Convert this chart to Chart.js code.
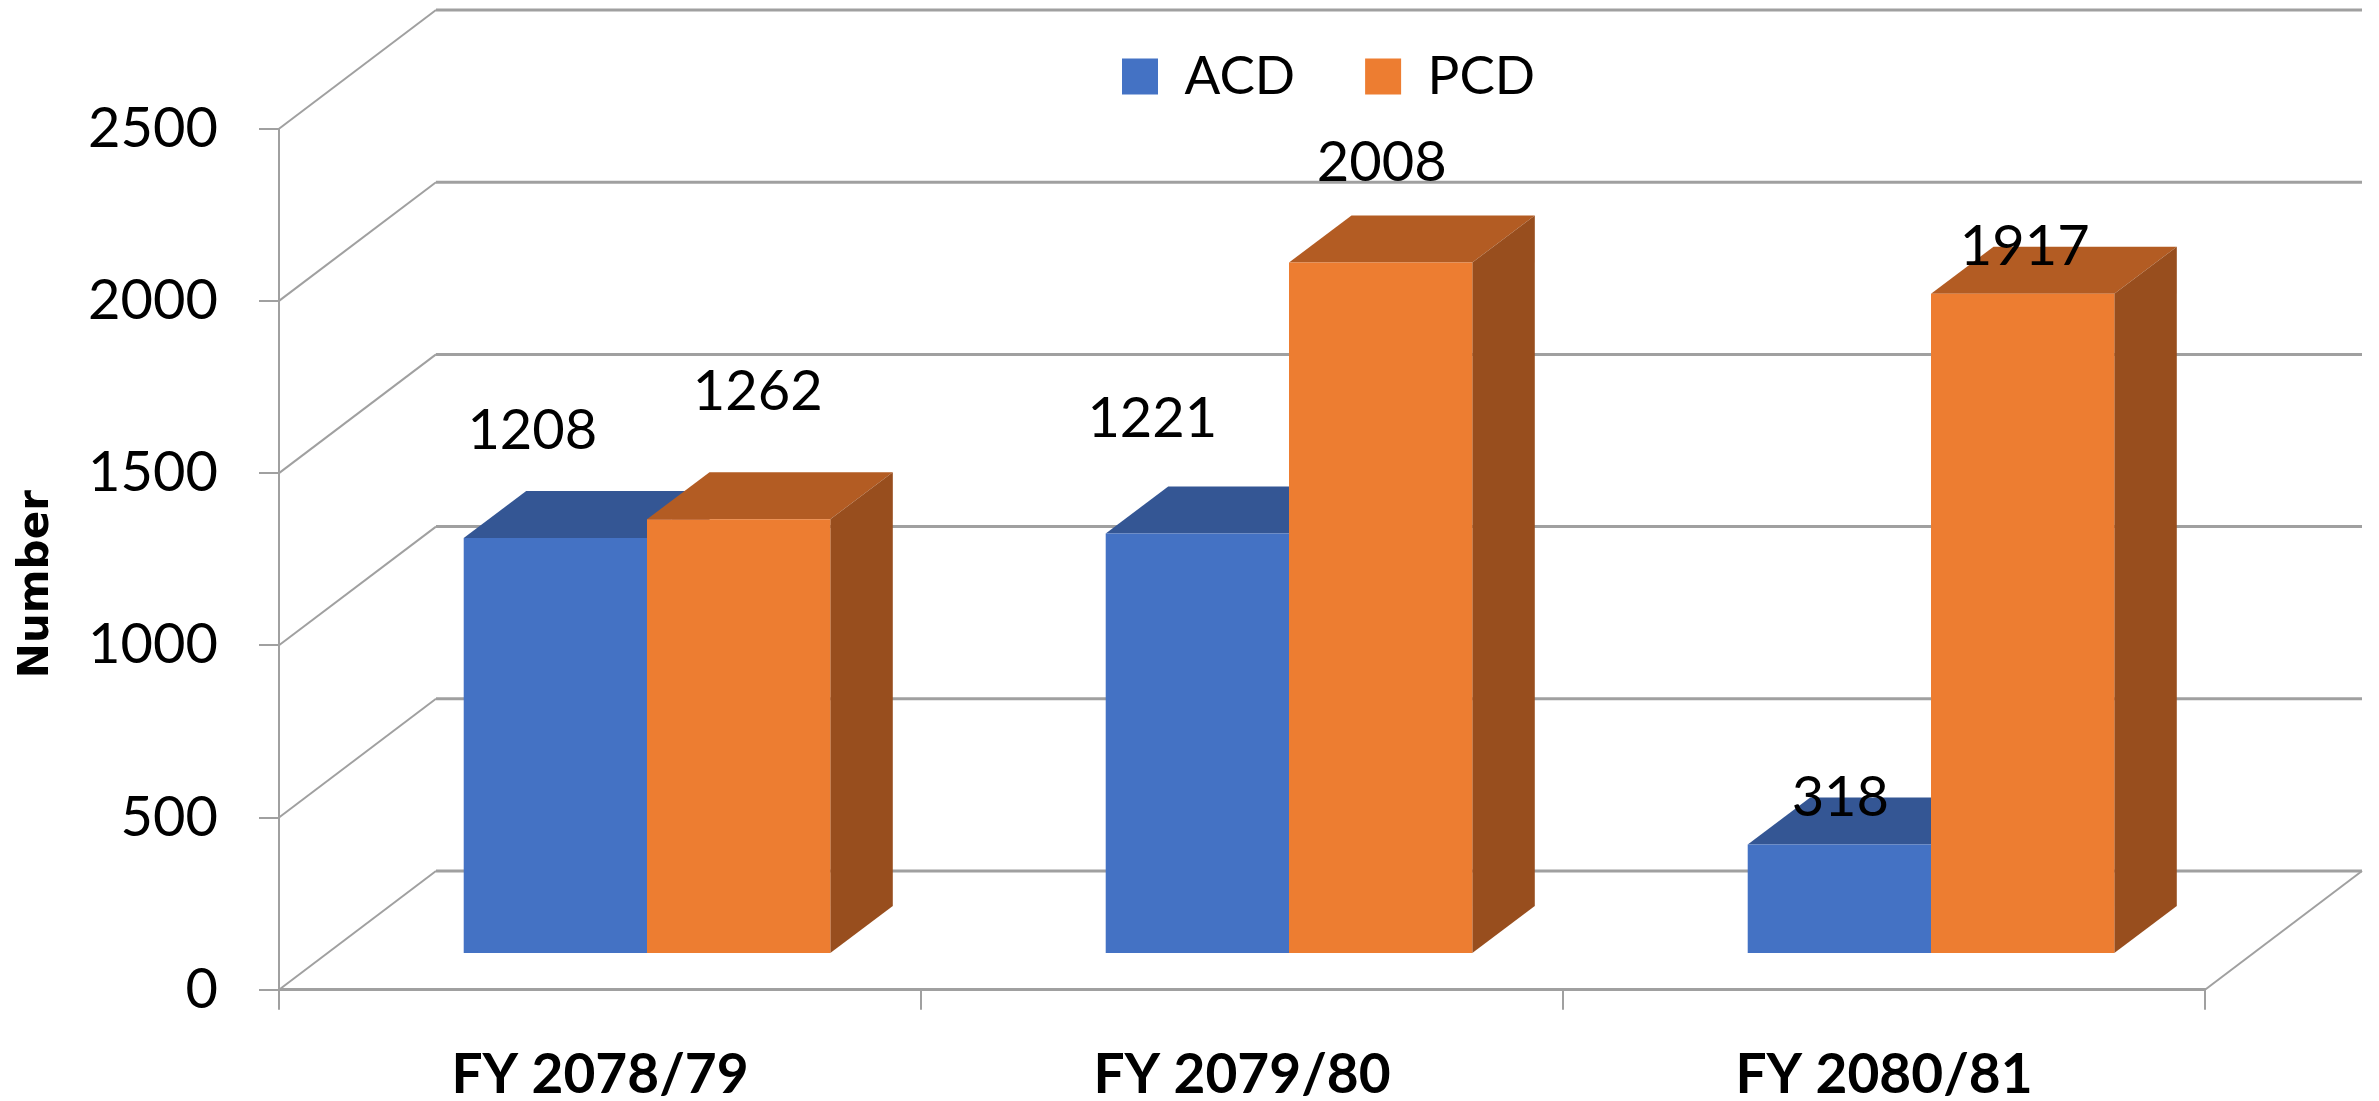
<!DOCTYPE html>
<html>
<head>
<meta charset="utf-8">
<title>ACD and PCD by fiscal year</title>
<script src="https://cdn.jsdelivr.net/npm/chart.js@4"></script>
<style>
    html, body { margin: 0; padding: 0; background: #fff; }
    #chart-wrap { width: 2379px; height: 1101px; }
</style>
</head>
<body>
<div id="chart-wrap"><canvas id="barChart"></canvas></div>
<script>
// Values
const categories = ['FY 2078/79', 'FY 2079/80', 'FY 2080/81'];
const acdValues = [1208, 1221, 318];
const pcdValues = [1262, 2008, 1917];
const yMax = 2500;
const yStep = 500;

// Data labels were placed by hand in the original, so keep their nudges (px from bar top centre)
const acdLabelNudge = [[-23, -107], [-45, -115], [1, -47]];
const pcdLabelNudge = [[19, -127], [1, -100], [2, -47]];

const GRID = '#a0a0a0';
const FONT = 'Lato, Carlito, sans-serif';

// Fake 3D: the floor depth, how far the bars sit into it and how deep the bars are
const floorDx = 157, floorDy = 118.7;
const barDx = 47, barDy = 35.7;
const depthDx = 62.5, depthDy = 47;

const faceColors = [
    { top: '#345694', side: '#2a4474' },
    { top: '#b35c23', side: '#984e1e' }
];

function poly(ctx, pts, fill) {
    ctx.beginPath();
    pts.forEach((p, i) => i ? ctx.lineTo(p[0], p[1]) : ctx.moveTo(p[0], p[1]));
    ctx.closePath();
    ctx.fillStyle = fill;
    ctx.fill();
}

const box3d = {
    id: 'box3d',
    afterLayout(chart) {
        // move the legend and the axis title to where they sit in the original
        const legend = chart.legend;
        legend.left = 1122 - legend.options.labels.padding;
        legend.right = legend.left + 600;
        legend.top = 84 - legend.options.labels.padding - 34;
        chart.scales.y.bottom += 50;
    },
    beforeDatasetsDraw(chart) {
        const { ctx, chartArea, scales } = chart;
        const { left, right, top, bottom } = chartArea;

        // back wall lines and their diagonals
        ctx.save();
        ctx.strokeStyle = GRID;
        scales.y.ticks.forEach(t => {
            const y = scales.y.getPixelForValue(t.value);
            ctx.lineWidth = 2;
            ctx.beginPath();
            ctx.moveTo(left, y);
            ctx.lineTo(left + floorDx, y - floorDy);
            ctx.stroke();
            ctx.lineWidth = 3;
            ctx.beginPath();
            ctx.moveTo(left + floorDx, y - floorDy);
            ctx.lineTo(right + floorDx, y - floorDy);
            ctx.stroke();
        });
        ctx.lineWidth = 2;
        ctx.beginPath();
        ctx.moveTo(right, bottom);
        ctx.lineTo(right + floorDx, bottom - floorDy);
        ctx.stroke();
        // y axis line, drawn here because the shifted scale box would stretch the built-in one
        ctx.beginPath();
        ctx.moveTo(left, top);
        ctx.lineTo(left, bottom);
        ctx.stroke();
        ctx.restore();

        // the bars stand a little way into the floor
        ctx.save();
        ctx.translate(barDx, -barDy);
        chart.data.datasets.forEach((ds, d) => {
            chart.getDatasetMeta(d).data.forEach(bar => {
                const x0 = bar.x - bar.width / 2, x1 = bar.x + bar.width / 2;
                const c = faceColors[d];
                poly(ctx, [[x0, bar.y], [x1, bar.y], [x1 + depthDx, bar.y - depthDy], [x0 + depthDx, bar.y - depthDy]], c.top);
                poly(ctx, [[x1, bar.y], [x1, bar.base], [x1 + depthDx, bar.base - depthDy], [x1 + depthDx, bar.y - depthDy]], c.side);
            });
        });
        // left open on purpose, afterDatasetsDraw restores after the fronts are drawn
    },
    afterDatasetsDraw(chart) {
        const { ctx } = chart;
        ctx.restore();

        // value labels
        ctx.save();
        ctx.translate(barDx, -barDy);
        ctx.font = '56px ' + FONT;
        ctx.fillStyle = '#000';
        ctx.textAlign = 'center';
        ctx.textBaseline = 'middle';
        const nudges = [acdLabelNudge, pcdLabelNudge];
        chart.data.datasets.forEach((ds, d) => {
            chart.getDatasetMeta(d).data.forEach((bar, i) => {
                const n = nudges[d][i];
                ctx.fillText(ds.data[i], bar.x + n[0], bar.y + n[1]);
            });
        });
        ctx.restore();
    }
};

const config = {
    type: 'bar',
    data: {
        labels: categories,
        datasets: [
            { label: 'ACD', data: acdValues, backgroundColor: '#4472c4' },
            { label: 'PCD', data: pcdValues, backgroundColor: '#ed7d31' }
        ]
    },
    options: {
        responsive: true,
        maintainAspectRatio: false,
        animation: false,
        categoryPercentage: 0.571,
        barPercentage: 1,
        layout: { padding: { top: 127.7, right: 174, left: 0, bottom: 0 } },
        plugins: {
            title: { display: false },
            tooltip: { enabled: false },
            legend: {
                display: true,
                position: 'top',
                maxHeight: 1,
                align: 'start',
                labels: {
                    boxWidth: 36,
                    boxHeight: 36,
                    padding: 70,
                    color: '#000',
                    font: { family: FONT, size: 53 }
                }
            }
        },
        scales: {
            x: {
                afterFit(scale) { scale.height = 111.3; },
                grid: { drawOnChartArea: false, color: GRID, lineWidth: 2, tickLength: 20 },
                border: { display: true, color: GRID, width: 3 },
                ticks: {
                    color: '#000',
                    padding: 33,
                    maxRotation: 0,
                    font: { family: FONT, size: 55, weight: 'bold' }
                }
            },
            y: {
                min: 0,
                max: yMax,
                afterFit(scale) { scale.width = 279; },
                grid: { drawOnChartArea: false, color: GRID, lineWidth: 2, tickLength: 20 },
                border: { display: false },
                ticks: {
                    stepSize: yStep,
                    color: '#000',
                    padding: 41,
                    font: { family: FONT, size: 56 },
                    callback: value => String(value)
                },
                title: {
                    display: true,
                    text: 'Number',
                    color: '#000',
                    padding: { top: 12, bottom: 0 },
                    font: { family: '"DejaVu Sans"', size: 42, weight: 'bold' }
                }
            }
        }
    },
    plugins: [box3d]
};

new Chart(document.getElementById('barChart'), config);
</script>
</body>
</html>
